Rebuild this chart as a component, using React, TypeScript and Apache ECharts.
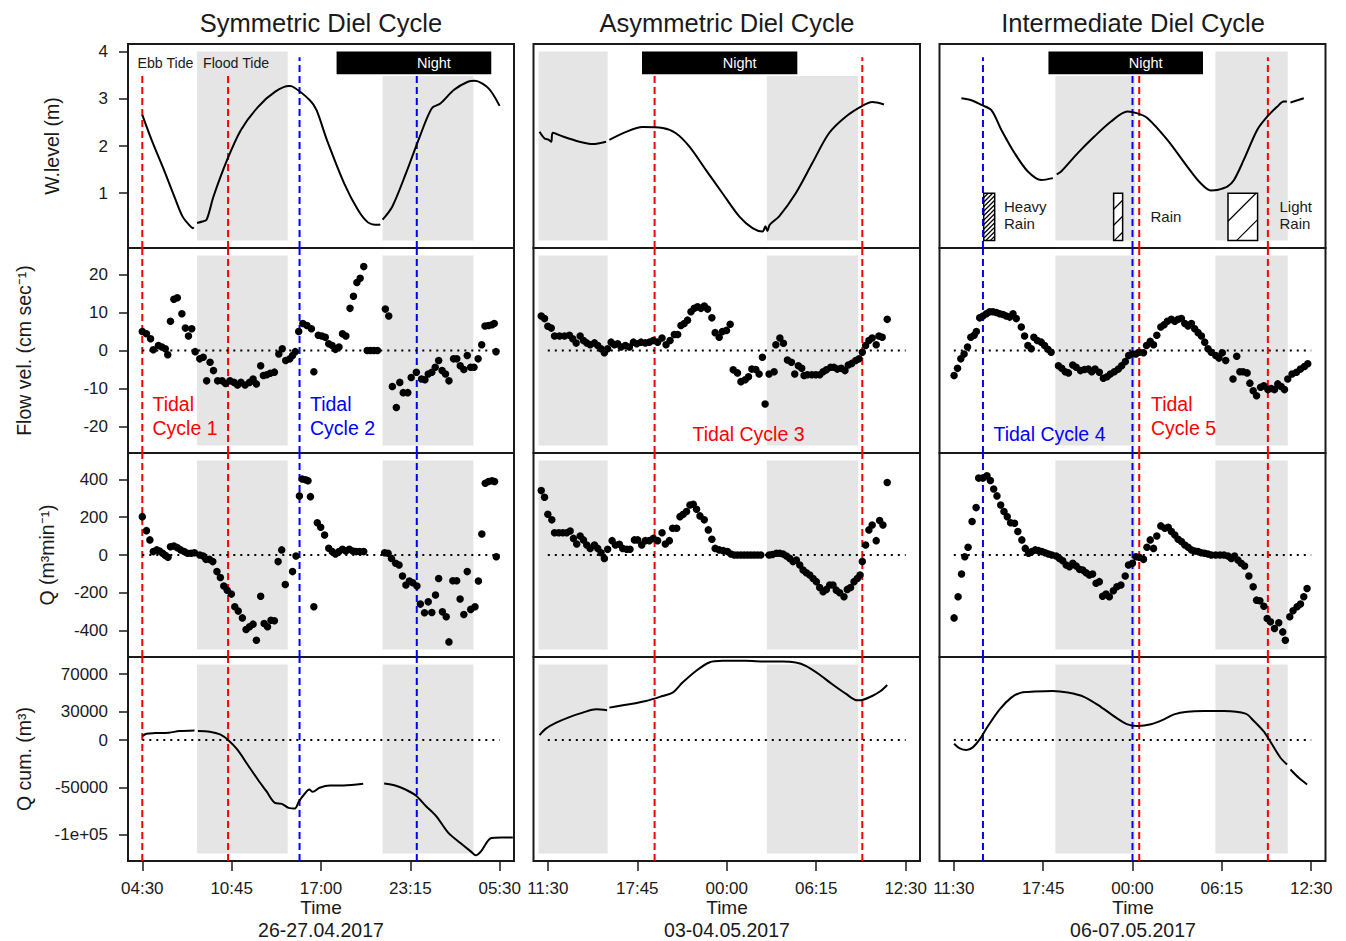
import React, { useEffect, useRef } from 'react';
import * as echarts from 'echarts';

const FONT = '"Liberation Sans", Arial, Helvetica, sans-serif';

// ---------- DATA (x = hours after the first labelled tick of each column) ----------
const tickHours = [0, 6.25, 12.5, 18.75, 25];
const tickLabelsSym = ['04:30', '10:45', '17:00', '23:15', '05:30'];
const tickLabelsAsym = ['11:30', '17:45', '00:00', '06:15', '12:30'];
const tickLabelsInter = ['11:30', '17:45', '00:00', '06:15', '12:30'];

const columnTitles = ['Symmetric Diel Cycle', 'Asymmetric Diel Cycle', 'Intermediate Diel Cycle'];
const columnDates = ['26-27.04.2017', '03-04.05.2017', '06-07.05.2017'];

const wlTicks = [1, 2, 3, 4];
const velTicks = [-20, -10, 0, 10, 20];
const qTicks = [-400, -200, 0, 200, 400];
const qcumTicks = [-100000, -50000, 0, 30000, 70000];

// flood tide periods (grey shading)
const floodSym = [[3.83, 10.17], [16.81, 23.16]];
const floodAsym = [[-0.65, 4.18], [15.3, 21.67]];
const floodInter = [[7.11, 12.67], [18.3, 23.36]];

// night
const nightSym = [13.59, 24.41];
const nightAsym = [6.58, 17.43];
const nightInter = [6.62, 17.43];

// tidal cycle boundaries
const redSym = [0, 6.0];
const blueSym = [11.0, 19.2];
const redAsym = [7.46, 21.97];
const blueAsym: number[] = [];
const redInter = [12.97, 21.97];
const blueInter = [2.04, 12.5];

// rain events (intermediate cycle)
const rainInter = [
  { start: 2.09, end: 2.86, level: 'heavy' },
  { start: 11.18, end: 11.81, level: 'moderate' },
  { start: 19.18, end: 21.25, level: 'light' },
];

// water level (m); null = gap
const wlSym: any[] = [
  [0, 2.66], [0.65, 2.13], [1.61, 1.42], [2.33, 0.86], [2.81, 0.51], [3.3, 0.32], [3.53, 0.26], [3.6, 0.28], null,
  [3.83, 0.37], [4.2, 0.4], [4.5, 0.44], [4.98, 0.93], [5.94, 1.71], [6.9, 2.34], [8.1, 2.83], [9.3, 3.15], [10.27, 3.27],
  [10.5, 3.26], [11.72, 2.97], [12.19, 2.76], [12.91, 2.13], [14.12, 1.21], [15.08, 0.65], [15.8, 0.38], [16.52, 0.33], [16.65, 0.34], null,
  [16.81, 0.44], [17.49, 0.72], [18.44, 1.42], [19.41, 2.2], [20.25, 2.8], [20.85, 2.9], [21.81, 3.19], [22.77, 3.36],
  [23.25, 3.38], [24.22, 3.22], [24.99, 2.85],
];
const wlAsym: any[] = [
  [-0.58, 2.3], [-0.23, 2.16], [0.07, 2.13], [0.24, 2.09], [0.35, 2.28], [1.05, 2.2], [2.21, 2.09], [3.14, 2.04], [4.07, 2.09], null,
  [4.3, 2.13], [5.47, 2.3], [6.62, 2.4], [8.02, 2.38], [8.95, 2.27], [9.88, 1.99], [11.05, 1.49], [12.2, 1.0], [13.37, 0.51],
  [14.3, 0.26], [15.0, 0.19], [15.2, 0.3], [15.34, 0.2], [15.5, 0.33], [16.16, 0.51], [17.32, 1.0], [18.48, 1.64], [19.64, 2.27],
  [20.81, 2.62], [21.97, 2.85], [22.66, 2.93], [23.48, 2.88],
];
const wlInter: any[] = [
  [0.53, 3.01], [1.23, 2.97], [1.93, 2.87], [2.63, 2.76], [3.33, 2.34], [4.25, 1.85], [5.18, 1.46], [6.12, 1.28], [6.93, 1.32], null,
  [7.2, 1.4], [7.51, 1.46], [8.67, 1.85], [9.83, 2.2], [11.0, 2.52], [12.15, 2.73], [12.85, 2.69], [13.55, 2.59], [14.94, 2.13],
  [16.34, 1.56], [17.27, 1.21], [17.97, 1.06], [18.43, 1.07], [19.13, 1.14], [19.6, 1.28], [20.29, 1.71], [21.22, 2.34],
  [21.92, 2.62], [22.61, 2.83], [23.08, 2.94], [23.3, 2.94], null, [23.55, 2.92], [24.48, 3.01],
];

// flow velocity (cm/s)
const velSym = [
  [0, 5.0], [0.29, 4.4], [0.58, 3.1], [0.77, 0.2], [1.13, 1.3], [1.37, 0.9], [1.61, 0.45], [1.78, -1.1], [1.97, 7.7], [2.21, 13.5],
  [2.45, 13.9], [2.77, 9.7], [3.01, 5.9], [3.23, 3.8], [3.46, 5.75], [3.7, -0.3], [4.02, -2.2], [4.26, -1.8], [4.5, -8.0], [4.74, -3.1],
  [4.98, -5.3], [5.27, -8.0], [5.58, -8.0], [5.82, -8.7], [6.13, -8.0], [6.42, -8.4], [6.66, -9.1], [6.9, -8.4], [7.19, -9.1], [7.5, -8.4],
  [7.75, -7.5], [7.98, -8.8], [8.28, -4.0], [8.47, -6.6], [8.71, -6.4], [8.95, -6.0], [9.24, -5.7], [9.55, -0.9], [9.79, 0.45],
  [10.03, -2.65], [10.32, -2.2], [10.51, -1.3], [10.7, -0.3], [10.94, 5.0], [11.23, 7.1], [11.52, 6.6], [11.83, 5.75], [12.0, -5.6],
  [12.31, 4.0], [12.56, 3.8], [12.8, 3.5], [13.04, 1.8], [13.28, 1.3], [13.51, 0.3], [13.76, 0.9], [14.0, 4.4], [14.24, 3.8],
  [14.53, 11.1], [14.77, 14.3], [15.01, 17.9], [15.24, 19.0], [15.49, 22.1], [15.73, 0], [15.97, 0], [16.21, 0], [16.45, 0],
  [17.0, 10.9], [17.24, 9.1], [17.49, -9.5], [17.77, -15], [18.01, -8.4], [18.25, -11.1], [18.57, -11.1], [18.81, -7.1], [19.17, -5.75],
  [19.53, -7.5], [19.77, -7.7], [20.0, -6.2], [20.25, -5.75], [20.49, -4.4], [20.73, -2.65], [20.97, -5.3], [21.21, -6.2], [21.45, -8.0],
  [21.77, -2.2], [22.0, -2.2], [22.24, -4.0], [22.49, -5.0], [22.73, -1.3], [22.97, -4.4], [23.2, -4.4], [23.49, -2.2], [23.74, 1.5],
  [23.97, 6.45], [24.22, 6.6], [24.46, 6.8], [24.62, 7.1], [24.74, -0.3],
];
const velAsym = [
  [-0.46, 9.1], [-0.23, 8.4], [0, 6.4], [0.24, 5.9], [0.47, 3.8], [0.82, 3.8], [1.17, 3.8], [1.51, 4.0], [1.74, 3.1], [1.98, 1.95],
  [2.26, 3.8], [2.49, 2.65], [2.72, 2.0], [2.96, 1.5], [3.26, 2.0], [3.49, 1.3], [3.72, 0.45], [3.95, -0.6], [4.18, 0.45], [4.42, 2.2],
  [4.65, 1.5], [4.88, 1.8], [5.12, 0.9], [5.42, 1.3], [5.7, 0.9], [5.98, 2.2], [6.21, 1.8], [6.51, 2.2], [6.81, 2.0], [7.09, 2.2],
  [7.37, 2.65], [7.67, 2.2], [7.98, 3.3], [8.26, 1.5], [8.54, 2.65], [8.84, 4.2], [9.07, 4.2], [9.3, 6.6], [9.53, 7.1], [9.76, 8.0],
  [10.0, 10.2], [10.23, 11.1], [10.46, 11.5], [10.7, 11.1], [10.93, 11.7], [11.16, 10.9], [11.46, 8.6], [11.69, 4.7], [11.97, 3.5],
  [12.2, 5.0], [12.48, 5.3], [12.74, 6.9], [12.95, -5.1], [13.25, -5.9], [13.49, -8.2], [13.79, -7.7], [14.02, -6.9], [14.25, -4.9],
  [14.53, -5.0], [14.76, -6.2], [14.99, -1.8], [15.18, -14.1], [15.46, -6.2], [15.81, -5.6], [15.93, 1.5], [16.21, 3.3], [16.46, 1.9],
  [16.74, -2.5], [17.02, -3.1], [17.25, -6.2], [17.5, -4.0], [17.74, -4.7], [17.9, -6.6], [18.13, -6.4], [18.44, -6.4], [18.72, -6.4],
  [19.0, -6.4], [19.23, -5.6], [19.46, -5.1], [19.76, -4.4], [19.99, -4.4], [20.22, -4.9], [20.5, -4.7], [20.76, -5.3], [20.99, -3.8],
  [21.23, -3.4], [21.51, -2.65], [21.74, -2.2], [21.97, -0.45], [22.2, 1.3], [22.43, 2.65], [22.66, 3.3], [22.94, 1.5], [23.13, 3.8],
  [23.36, 3.5], [23.71, 8.2],
];
const velInter = [
  [0.02, -6.6], [0.26, -4.7], [0.49, -2.2], [0.72, -0.9], [0.96, 0.9], [1.19, 3.5], [1.42, 4.0], [1.58, 5.0], [1.81, 8.6], [2.04, 9.1],
  [2.28, 9.7], [2.51, 10.2], [2.74, 10.2], [2.98, 10.0], [3.21, 9.7], [3.44, 9.5], [3.67, 9.1], [3.91, 8.8], [4.14, 9.7], [4.37, 8.4],
  [4.72, 6.2], [4.95, 3.8], [5.18, 1.3], [5.42, 0.45], [5.6, 3.5], [5.84, 2.65], [6.12, 2.2], [6.35, 1.3], [6.58, 0.3], [6.81, -0.45],
  [7.32, -4.0], [7.55, -4.7], [7.79, -5.6], [8.02, -5.9], [8.32, -3.8], [8.56, -4.4], [8.86, -5.3], [9.14, -5.0], [9.41, -4.9],
  [9.65, -5.6], [9.88, -4.9], [10.18, -5.75], [10.46, -7.3], [10.72, -6.9], [10.95, -6.2], [11.23, -5.6], [11.51, -4.9], [11.74, -4.0],
  [12.0, -2.9], [12.23, -1.3], [12.5, -0.9], [12.74, -0.9], [12.97, -0.45], [13.27, -0.6], [13.48, 1.3], [13.74, 2.4], [13.97, 1.5],
  [14.2, 4.0], [14.48, 6.2], [14.71, 6.8], [14.94, 7.7], [15.22, 8.2], [15.46, 7.7], [15.69, 8.2], [15.92, 8.4], [16.16, 7.1],
  [16.39, 6.45], [16.62, 7.1], [16.85, 5.75], [17.09, 4.7], [17.32, 3.8], [17.55, 2.2], [17.78, 0.45], [18.01, -0.45], [18.32, -1.3],
  [18.55, -2.0], [18.78, -0.6], [19.02, -2.65], [19.53, -7.5], [19.79, -1.5], [20.01, -5.6], [20.24, -5.6], [20.52, -5.9], [20.71, -8.6],
  [20.94, -10.6], [21.18, -11.9], [21.46, -9.7], [21.69, -9.3], [21.97, -10.3], [22.2, -10.0], [22.43, -10.3], [22.66, -8.8],
  [22.9, -9.5], [23.13, -10.3], [23.36, -7.5], [23.66, -6.2], [23.97, -5.75], [24.25, -4.9], [24.53, -4.2], [24.76, -3.5],
];

// discharge Q (m3/min)
const qSym = [
  [0, 203], [0.29, 129], [0.53, 80], [0.77, 18], [1.01, 27], [1.2, 21], [1.42, 9], [1.61, -2], [1.8, -12], [1.97, 44], [2.21, 48],
  [2.45, 39], [2.69, 27], [2.93, 18], [3.17, 9], [3.41, 9], [3.65, 12], [4.02, 0], [4.26, -5], [4.45, -23], [4.69, -23], [4.93, -35],
  [5.22, -88], [5.46, -119], [5.7, -164], [5.94, -186], [6.23, -207], [6.47, -274], [6.71, -297], [7.0, -333], [7.26, -394],
  [7.5, -380], [7.75, -366], [7.98, -451], [8.28, -218], [8.52, -363], [8.76, -380], [9.0, -345], [9.24, -348], [9.5, -35],
  [9.75, 27], [10.0, -156], [10.51, -88], [10.75, -5], [10.99, 313], [11.18, 402], [11.42, 398], [11.59, 393], [11.76, 309],
  [12.0, -274], [12.24, 171], [12.48, 147], [12.75, 106], [13.04, 36], [13.28, 18], [13.51, 5], [13.76, 18], [14.0, 30], [14.24, 21],
  [14.48, 30], [14.72, 21], [14.96, 18], [15.2, 18], [15.49, 18], [16.95, 12], [17.19, 9], [17.43, -18], [17.72, -44], [17.96, -53],
  [18.2, -111], [18.44, -159], [18.68, -138], [18.92, -147], [19.21, -164], [19.45, -260], [19.74, -306], [20.0, -248], [20.25, -304],
  [20.51, -212], [20.73, -124], [20.99, -301], [21.26, -327], [21.45, -460], [21.72, -136], [21.99, -136], [22.23, -233], [22.49, -315],
  [22.73, -88], [22.97, -288], [23.27, -274], [23.51, -138], [23.75, 111], [23.99, 380], [24.22, 389], [24.46, 393], [24.64, 389],
  [24.76, -9],
];
const qAsym = [
  [-0.46, 341], [-0.23, 306], [0, 216], [0.28, 186], [0.47, 118], [0.77, 118], [1.05, 118], [1.32, 118], [1.56, 127], [1.79, 88],
  [2.02, 58], [2.26, 101], [2.49, 80], [2.72, 53], [2.96, 35], [3.26, 53], [3.49, 35], [3.72, 12], [3.95, -18], [4.18, 30], [4.49, 76],
  [4.72, 53], [5.0, 57], [5.23, 35], [5.51, 30], [5.74, 30], [6.05, 80], [6.28, 80], [6.56, 53], [6.81, 76], [7.09, 76], [7.37, 88],
  [7.67, 76], [7.98, 118], [8.21, 58], [8.49, 76], [8.72, 142], [9.0, 142], [9.23, 203], [9.46, 216], [9.69, 230], [9.93, 265],
  [10.16, 269], [10.39, 242], [10.63, 207], [10.93, 186], [11.21, 133], [11.46, 83], [11.69, 35], [11.97, 27], [12.25, 23], [12.55, 18],
  [12.79, 5], [13.02, 0], [13.25, 0], [13.49, 0], [13.72, 0], [13.95, 0], [14.18, 0], [14.41, 0], [14.64, 0], [14.88, 0], [15.46, 0],
  [15.69, 3], [15.97, 9], [16.2, 9], [16.44, 5], [16.67, -5], [16.9, -18], [17.13, -35], [17.36, -27], [17.6, -53], [17.83, -80],
  [18.06, -94], [18.3, -106], [18.53, -124], [18.76, -141], [18.99, -172], [19.23, -194], [19.46, -182], [19.69, -159], [19.92, -159],
  [20.15, -186], [20.39, -200], [20.69, -221], [20.92, -182], [21.15, -172], [21.39, -141], [21.62, -124], [21.81, -106], [21.97, -35],
  [22.2, 53], [22.43, 133], [22.66, 159], [22.94, 76], [23.18, 182], [23.41, 159], [23.71, 384],
];
const qInter = [
  [0.02, -333], [0.3, -221], [0.54, -101], [0.77, -9], [1.0, 41], [1.28, 177], [1.56, 251], [1.74, 407], [2.04, 407], [2.32, 419],
  [2.56, 394], [2.79, 349], [3.02, 313], [3.28, 265], [3.51, 230], [3.74, 203], [3.97, 171], [4.25, 168], [4.48, 124], [4.76, 80],
  [5.0, 35], [5.23, 9], [5.46, 18], [5.7, 27], [5.93, 23], [6.16, 18], [6.39, 12], [6.62, 5], [6.86, 0], [7.16, -5], [7.39, -18],
  [7.62, -30], [7.86, -53], [8.09, -62], [8.32, -44], [8.56, -58], [8.79, -76], [9.02, -80], [9.25, -94], [9.48, -106], [9.71, -101],
  [9.95, -150], [10.18, -141], [10.41, -218], [10.65, -207], [10.88, -221], [11.16, -189], [11.41, -168], [11.69, -159], [11.99, -111],
  [12.22, -53], [12.5, -44], [12.74, -9], [12.97, -12], [13.27, -23], [13.51, 41], [13.74, 80], [13.97, 35], [14.2, 101], [14.48, 154],
  [14.76, 142], [15.0, 147], [15.22, 124], [15.46, 106], [15.69, 83], [15.92, 71], [16.16, 53], [16.39, 41], [16.62, 27], [16.85, 21],
  [17.09, 18], [17.32, 12], [17.55, 9], [17.78, 5], [18.01, 0], [18.32, 0], [18.62, 0], [18.9, 0], [19.18, -5], [19.41, -18],
  [19.64, -5], [19.87, -27], [20.1, -44], [20.34, -58], [20.64, -111], [20.94, -168], [21.18, -239], [21.41, -242], [21.69, -271],
  [21.92, -336], [22.15, -354], [22.43, -389], [22.73, -359], [23.01, -407], [23.19, -451], [23.5, -327], [23.73, -295], [24.01, -274],
  [24.25, -260], [24.48, -221], [24.71, -177],
];

// cumulative Q (m3); null = gap
const qcumSym: any[] = [
  [0, 4250], [0.29, 6800], [0.9, 7400], [1.86, 7800], [2.58, 9600], [3.65, 10300], null,
  [3.89, 9600], [4.72, 8900], [5.44, 6000], [6.04, -300], [6.64, -9900], [7.36, -25800], [8.08, -41700], [8.68, -54100],
  [9.28, -66500], [9.76, -67500], [10.24, -71800], [10.67, -72500], [10.96, -64800], [11.32, -57600], [11.68, -52300],
  [11.92, -54800], [12.4, -50500], [13.12, -48100], [14.08, -48100], [15.45, -46300], null,
  [16.92, -46000], [17.69, -48100], [18.41, -52300], [19.13, -58700], [19.85, -70000], [20.57, -80700], [21.41, -98300],
  [22.25, -109000], [22.97, -117800], [23.33, -122000], [23.69, -117800], [24.41, -103600], [25.13, -103000], [25.92, -103000],
];
const qcumAsym: any[] = [
  [-0.58, 5300], [-0.11, 12400], [0.59, 18500], [1.51, 24400], [2.44, 29100], [3.38, 32600], [4.14, 31500], null,
  [4.3, 34400], [5.7, 37900], [6.86, 41400], [8.02, 46700], [8.72, 50300], [9.41, 60900], [10.35, 73200], [11.28, 82200],
  [12.2, 83900], [13.83, 83900], [15.23, 83200], [16.39, 83200], [17.32, 82200], [18.02, 78600], [18.95, 69700], [19.87, 59100],
  [20.81, 49200], [21.62, 42100], [21.97, 42500], [22.66, 46700], [23.25, 52000], [23.71, 58400],
];
const qcumInter: any[] = [
  [0.02, -3800], [0.42, -8800], [0.89, -10600], [1.35, -7400], [1.81, 700], [2.39, 14900], [3.21, 32600], [4.02, 45000],
  [4.72, 50300], [5.65, 51400], [6.92, 52000], [7.97, 50300], [9.14, 45600], [10.3, 35000], [11.35, 23800], [12.15, 16700],
  [12.85, 14900], [13.79, 16700], [14.71, 22000], [15.41, 27300], [16.34, 30100], [17.5, 30800], [18.9, 30800], [20.41, 28000],
  [20.99, 20200], [21.69, 8900], [22.15, -1700], [22.85, -18700], [23.31, -25800], null, [23.55, -31100], [24.13, -39900],
  [24.71, -47000],
];

// ---------- LAYOUT / STYLE ----------
const colLeft = [128, 533.5, 939.5];
const colWidth = [386, 386.5, 386];
const rowTop = [44, 248, 453, 657];
const rowHeight = [204, 205, 204, 204];
const yRanges = [[-0.16, 4.16], [-27, 27], [-540, 540], [-128000, 88000]];
const shadeRanges = [[0, 4], [-25, 25], [-500, 500], [-120000, 80000]];
const nightBand = [3.52, 4.0];
const RED = '#ff0000';
const BLUE = '#0000ff';
const INK = '#1a1a1a';

const columns = [
  { ticks: tickLabelsSym, flood: floodSym, night: nightSym, red: redSym, blue: blueSym, wl: wlSym, vel: velSym, q: qSym, qcum: qcumSym },
  { ticks: tickLabelsAsym, flood: floodAsym, night: nightAsym, red: redAsym, blue: blueAsym, wl: wlAsym, vel: velAsym, q: qAsym, qcum: qcumAsym },
  { ticks: tickLabelsInter, flood: floodInter, night: nightInter, red: redInter, blue: blueInter, wl: wlInter, vel: velInter, q: qInter, qcum: qcumInter },
];
const rowTicks = [wlTicks, velTicks, qTicks, qcumTicks];
const rowNames = ['W.level (m)', 'Flow vel. (cm sec\u207B\u00B9)', 'Q (m\u00B3min\u207B\u00B9)', 'Q cum. (m\u00B3)'];
const rowNameGaps = [66, 94, 71, 94];

function splitSegments(data: any[]) {
  const segs: any[][] = [];
  let cur: any[] = [];
  for (const p of data) {
    if (p === null) { if (cur.length) segs.push(cur); cur = []; } else cur.push(p);
  }
  if (cur.length) segs.push(cur);
  return segs;
}

function fmtY(v: number) {
  if (Math.abs(v) >= 100000) return (v < 0 ? '-' : '') + '1e+05';
  return String(v);
}

function buildOption() {
  const grid: any[] = [];
  const xAxis: any[] = [];
  const yAxis: any[] = [];
  const series: any[] = [];

  for (let r = 0; r < 4; r++) {
    for (let c = 0; c < 3; c++) {
      const g = r * 3 + c;
      const col = columns[c];
      grid.push({
        left: colLeft[c], top: rowTop[r], width: colWidth[c], height: rowHeight[r],
        show: true, borderColor: INK, borderWidth: 2, backgroundColor: 'transparent',
      });
      const labels = col.ticks;
      xAxis.push({
        type: 'value', gridIndex: g, min: -1, max: 26, show: r === 3, position: 'bottom',
        axisLine: { show: false, onZero: false }, splitLine: { show: false },
        axisTick: { show: true, inside: false, length: 10, lineStyle: { color: INK, width: 1.5 }, customValues: tickHours },
        axisLabel: {
          show: true, customValues: tickHours, margin: 19, fontSize: 17, color: INK, fontFamily: FONT, hideOverlap: false,
          formatter: (v: number) => {
            let best = 0;
            tickHours.forEach((t, i) => { if (Math.abs(t - v) < Math.abs(tickHours[best] - v)) best = i; });
            return labels[best];
          },
        },
      });
      yAxis.push({
        type: 'value', gridIndex: g, min: yRanges[r][0], max: yRanges[r][1], show: c === 0, position: 'left',
        axisLine: { show: false, onZero: false }, splitLine: { show: false },
        axisTick: { show: true, inside: false, length: 9, lineStyle: { color: INK, width: 1.5 }, customValues: rowTicks[r] },
        axisLabel: { show: true, customValues: rowTicks[r], margin: 20, fontSize: 17, color: INK, fontFamily: FONT, formatter: fmtY },
        name: rowNames[r], nameLocation: 'middle', nameRotate: 90, nameGap: rowNameGaps[r],
        nameTextStyle: { fontSize: 19.5, color: INK, fontFamily: FONT },
      });

      // flood-tide shading
      const [sLo, sHi] = shadeRanges[r];
      const nightLo = nightBand[0];
      series.push({
        type: 'custom', xAxisIndex: g, yAxisIndex: g, silent: true, z: 1,
        data: col.flood.map(([a, b]) => {
          const underNight = r === 0 && b > col.night[0] && a < col.night[1];
          return [a, b, sLo, underNight ? nightLo - 0.04 : sHi];
        }),
        encode: { x: [0, 1], y: [2, 3] },
        renderItem: (params: any, api: any) => {
          const p0 = api.coord([api.value(0), api.value(3)]);
          const p1 = api.coord([api.value(1), api.value(2)]);
          return {
            type: 'rect',
            shape: { x: p0[0], y: p0[1], width: p1[0] - p0[0], height: p1[1] - p0[1] },
            style: { fill: '#e5e5e5' },
          };
        },
      });

      // tidal cycle boundaries
      const vlines = [
        ...col.red.map((h) => ({ h, color: RED })),
        ...col.blue.map((h) => ({ h, color: BLUE })),
      ];
      vlines.forEach(({ h, color }) => {
        let top = yRanges[r][1];
        const bottom = yRanges[r][0];
        if (r === 0) {
          const inNight = h > col.night[0] && h < col.night[1];
          top = inNight ? 3.48 : (c === 0 && h < 9 ? 3.54 : 3.88);
        }
        series.push({
          type: 'line', xAxisIndex: g, yAxisIndex: g, silent: true, z: 2, symbol: 'none',
          data: [[h, bottom], [h, top]],
          lineStyle: { color, width: 2, type: [7, 4] },
        });
      });

      // zero reference
      if (r > 0) {
        series.push({
          type: 'line', xAxisIndex: g, yAxisIndex: g, silent: true, z: 2, symbol: 'none',
          data: [[tickHours[0], 0], [tickHours[tickHours.length - 1], 0]],
          lineStyle: { color: '#000', width: 2, type: [2, 5] },
        });
      }

      // data
      if (r === 0 || r === 3) {
        const segs = splitSegments(r === 0 ? col.wl : col.qcum);
        segs.forEach((seg) => {
          series.push({
            type: 'line', xAxisIndex: g, yAxisIndex: g, silent: true, z: 3, symbol: 'none', smooth: 0.3,
            data: seg, lineStyle: { color: '#000', width: 2 },
          });
        });
      } else {
        series.push({
          type: 'scatter', xAxisIndex: g, yAxisIndex: g, silent: true, z: 3,
          data: r === 1 ? col.vel : col.q, symbolSize: 7.5, itemStyle: { color: '#000', opacity: 1 },
        });
      }

      // night box
      if (r === 0) {
        series.push({
          type: 'custom', xAxisIndex: g, yAxisIndex: g, silent: true, z: 5,
          data: [[col.night[0], col.night[1], nightBand[0], nightBand[1]]],
          encode: { x: [0, 1], y: [2, 3] },
          renderItem: (params: any, api: any) => {
            const p0 = api.coord([api.value(0), api.value(3)]);
            const p1 = api.coord([api.value(1), api.value(2)]);
            return {
              type: 'group',
              children: [
                { type: 'rect', shape: { x: p0[0], y: p0[1], width: p1[0] - p0[0], height: p1[1] - p0[1] }, style: { fill: '#000' } },
                {
                  type: 'text', x: (p0[0] + p1[0]) / 2 + 20, y: (p0[1] + p1[1]) / 2,
                  style: { text: 'Night', fill: '#fff', fontSize: 14.5, fontFamily: FONT, align: 'center', verticalAlign: 'middle' },
                },
              ],
            };
          },
        });
      }

      // rain boxes
      if (r === 0 && c === 2) {
        const spacing: Record<string, number> = { heavy: 4.5, moderate: 16, light: 28 };
        series.push({
          type: 'custom', xAxisIndex: g, yAxisIndex: g, silent: true, z: 5,
          data: rainInter.map((e) => [e.start, e.end, 0, 1]),
          encode: { x: [0, 1], y: [2, 3] },
          renderItem: (params: any, api: any) => {
            const tl = api.coord([api.value(0), api.value(3)]);
            const br = api.coord([api.value(1), api.value(2)]);
            const X0 = tl[0], X1 = br[0], YT = tl[1], YB = br[1];
            const sp = spacing[rainInter[params.dataIndex].level];
            const children: any[] = [
              { type: 'rect', shape: { x: X0, y: YT, width: X1 - X0, height: YB - YT }, style: { fill: '#fff' } },
            ];
            for (let k = X0 + YT + sp; k < X1 + YB; k += sp) {
              const xa = Math.max(X0, k - YB);
              const xb = Math.min(X1, k - YT);
              if (xb > xa) children.push({ type: 'line', shape: { x1: xa, y1: k - xa, x2: xb, y2: k - xb }, style: { stroke: '#000', lineWidth: 1.2 } });
            }
            children.push({ type: 'rect', shape: { x: X0, y: YT, width: X1 - X0, height: YB - YT }, style: { fill: 'none', stroke: '#000', lineWidth: 1.5 } });
            return { type: 'group', children };
          },
        });
      }
    }
  }

  const txt = (text: string, x: number, y: number, size: number, opts: any = {}) => ({
    type: 'text', x, y, z: 100, silent: true,
    style: { text, fontSize: size, fontFamily: FONT, fill: opts.fill || INK, align: opts.align || 'left', verticalAlign: 'middle', lineHeight: opts.lh },
  });
  const colCenters = [321, 727, 1133];
  const graphic: any[] = [];
  columnTitles.forEach((t, i) => graphic.push(txt(t, colCenters[i], 23, 25.5, { align: 'center' })));
  colCenters.forEach((cx) => graphic.push(txt('Time', cx, 907, 19, { align: 'center' })));
  columnDates.forEach((d, i) => graphic.push(txt(d, colCenters[i], 930, 19.5, { align: 'center' })));
  graphic.push(txt('Ebb Tide', 137.5, 63, 14.2));
  graphic.push(txt('Flood Tide', 203, 63, 14.2));
  graphic.push(txt('Tidal\nCycle 1', 152.5, 416, 19.5, { fill: RED, lh: 24.4 }));
  graphic.push(txt('Tidal\nCycle 2', 310, 416, 19.5, { fill: BLUE, lh: 24.4 }));
  graphic.push(txt('Tidal Cycle 3', 748.5, 433.5, 19.5, { fill: RED, align: 'center' }));
  graphic.push(txt('Tidal Cycle 4', 993.5, 433.5, 19.5, { fill: BLUE }));
  graphic.push(txt('Tidal\nCycle 5', 1151, 416, 19.5, { fill: RED, lh: 24.4 }));
  graphic.push(txt('Heavy\nRain', 1004, 215, 15, { lh: 16.7 }));
  graphic.push(txt('Rain', 1150.5, 216.5, 15));
  graphic.push(txt('Light\nRain', 1279.5, 215, 15, { lh: 16.7 }));

  return {
    animation: false,
    backgroundColor: '#fff',
    textStyle: { fontFamily: FONT },
    grid, xAxis, yAxis, series, graphic,
  };
}

export default function App() {
  const ref = useRef<HTMLDivElement>(null);
  useEffect(() => {
    const chart = echarts.init(ref.current!, null, { renderer: 'svg' });
    chart.setOption(buildOption());
    return () => chart.dispose();
  }, []);
  return (
    <div
      ref={ref}
      style={{ position: 'fixed', left: 0, top: 0, width: 1346, height: 941, background: '#fff' }}
    />
  );
}
